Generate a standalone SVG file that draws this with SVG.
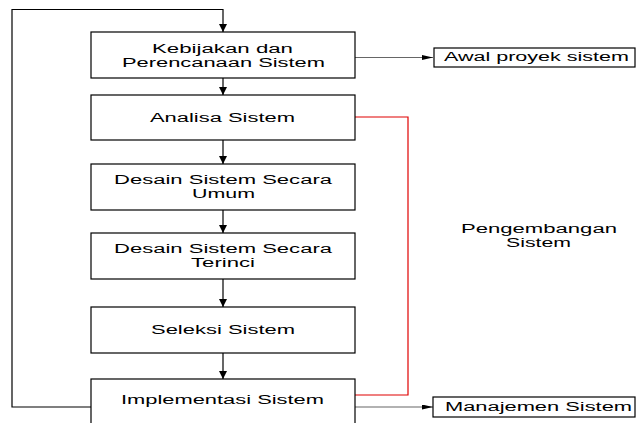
<svg xmlns="http://www.w3.org/2000/svg" width="636" height="423" viewBox="0 0 636 423">
<style>
.box{fill:#fff;stroke:#000;stroke-width:1.2}
.lbl{font-family:"Liberation Sans",Arial,sans-serif;font-size:12.5px;fill:#000}
.ln{fill:none;stroke:#000;stroke-width:1.2}
.gl{fill:none;stroke:#666;stroke-width:1.2}
.red{fill:none;stroke:#e00000;stroke-width:1.2}
</style>
<defs>
<marker id="down" viewBox="0 0 10 10" refX="10" refY="5" markerWidth="8" markerHeight="8" markerUnits="userSpaceOnUse" orient="auto">
<path d="M0,0 L10,5 L0,10 z" fill="#000"/>
</marker>
<marker id="right" viewBox="0 0 11 5" refX="11" refY="2.5" markerWidth="11" markerHeight="5" markerUnits="userSpaceOnUse" orient="auto">
<path d="M0,0 L11,2.5 L0,5 z" fill="#000"/>
</marker>
</defs>
<rect width="636" height="423" fill="#fff"/>
<g id="connectors">
<polyline class="ln" points="91,407 12,407 12,9.5 223,9.5 223,32" marker-end="url(#down)"/>
<line class="ln" x1="223" y1="78" x2="223" y2="95" marker-end="url(#down)"/>
<line class="ln" x1="223" y1="140" x2="223" y2="164" marker-end="url(#down)"/>
<line class="ln" x1="223" y1="210" x2="223" y2="233" marker-end="url(#down)"/>
<line class="ln" x1="223" y1="279" x2="223" y2="307" marker-end="url(#down)"/>
<line class="ln" x1="223" y1="353" x2="223" y2="379" marker-end="url(#down)"/>
<line class="gl" x1="355" y1="57.5" x2="433" y2="57.5" marker-end="url(#right)"/>
<line class="gl" x1="355" y1="407" x2="433" y2="407" marker-end="url(#right)"/>
<polyline class="red" points="355,117 408,117 408,395 355,395"/>
</g>
<g id="n1">
<rect class="box" x="91" y="32" width="264" height="46"/>
<text class="lbl"><tspan x="152" y="52.5" textLength="141" lengthAdjust="spacingAndGlyphs">Kebijakan dan</tspan><tspan x="122" y="67" textLength="203" lengthAdjust="spacingAndGlyphs">Perencanaan Sistem</tspan></text>
</g>
<g id="n2">
<rect class="box" x="91" y="95" width="264" height="45"/>
<text class="lbl" x="150" y="122" textLength="145" lengthAdjust="spacingAndGlyphs">Analisa Sistem</text>
</g>
<g id="n3">
<rect class="box" x="91" y="164" width="264" height="46"/>
<text class="lbl"><tspan x="114" y="183.5" textLength="218" lengthAdjust="spacingAndGlyphs">Desain Sistem Secara</tspan><tspan x="192" y="198" textLength="63" lengthAdjust="spacingAndGlyphs">Umum</tspan></text>
</g>
<g id="n4">
<rect class="box" x="91" y="233" width="264" height="46"/>
<text class="lbl"><tspan x="114" y="252.5" textLength="218" lengthAdjust="spacingAndGlyphs">Desain Sistem Secara</tspan><tspan x="191" y="267" textLength="64" lengthAdjust="spacingAndGlyphs">Terinci</tspan></text>
</g>
<g id="n5">
<rect class="box" x="91" y="307" width="264" height="46"/>
<text class="lbl" x="151" y="334" textLength="144" lengthAdjust="spacingAndGlyphs">Seleksi Sistem</text>
</g>
<g id="n6">
<rect class="box" x="91" y="379" width="264" height="50"/>
<text class="lbl" x="121" y="404" textLength="203" lengthAdjust="spacingAndGlyphs">Implementasi Sistem</text>
</g>
<g id="awal">
<rect class="box" x="434" y="48" width="201" height="19"/>
<text class="lbl" x="444" y="61" textLength="185" lengthAdjust="spacingAndGlyphs">Awal proyek sistem</text>
</g>
<g id="manajemen">
<rect class="box" x="433" y="397" width="202" height="20"/>
<text class="lbl" x="445" y="411" textLength="187" lengthAdjust="spacingAndGlyphs">Manajemen Sistem</text>
</g>
<g id="pengembangan">
<text class="lbl"><tspan x="461" y="232.5" textLength="156" lengthAdjust="spacingAndGlyphs">Pengembangan</tspan><tspan x="506" y="247" textLength="65" lengthAdjust="spacingAndGlyphs">Sistem</tspan></text>
</g>
</svg>
